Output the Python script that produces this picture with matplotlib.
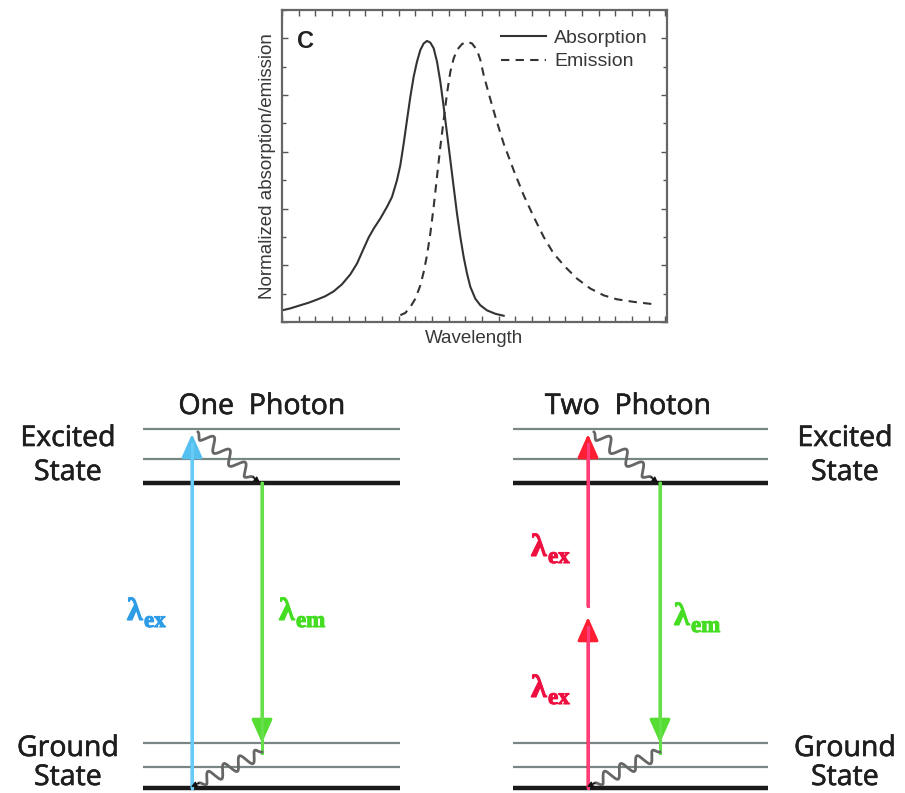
import numpy as np
import matplotlib.pyplot as plt
import matplotlib.patheffects as pe
from matplotlib.ticker import MultipleLocator

# absorption / emission spectra (arbitrary wavelength units, normalised)
abs_x = [0.0, 0.5, 1.1, 1.6, 2.1, 2.6, 3.1, 3.6, 4.1, 4.5, 4.9, 5.2, 5.5, 5.9,
         6.3, 6.6, 6.9, 7.1, 7.3, 7.5, 7.7, 7.9, 8.1, 8.3, 8.5, 8.7, 8.9, 9.1,
         9.3, 9.5, 9.7, 9.9, 10.1, 10.3, 10.5, 10.7, 10.9, 11.1, 11.3, 11.6,
         11.9, 12.3, 12.8, 13.3]
abs_y = [0.041, 0.048, 0.059, 0.068, 0.079, 0.091, 0.108, 0.133, 0.168, 0.206,
         0.259, 0.298, 0.329, 0.365, 0.406, 0.441, 0.500, 0.553, 0.629, 0.712,
         0.794, 0.865, 0.918, 0.959, 0.982, 0.991, 0.985, 0.965, 0.918, 0.847,
         0.759, 0.665, 0.571, 0.476, 0.382, 0.300, 0.229, 0.171, 0.124, 0.082,
         0.059, 0.041, 0.029, 0.022]
em_x = [7.1, 7.4, 7.7, 8.0, 8.3, 8.5, 8.7, 8.9, 9.1, 9.3, 9.5, 9.7, 9.9, 10.1,
        10.3, 10.5, 10.8, 11.1, 11.4, 11.7, 11.9, 12.1, 12.4, 12.8, 13.3, 13.9,
        14.5, 15.1, 15.7, 16.3, 17.0, 17.7, 18.5, 19.3, 20.1, 21.1, 22.4]
em_y = [0.024, 0.032, 0.053, 0.082, 0.129, 0.176, 0.235, 0.312, 0.406, 0.512,
        0.618, 0.712, 0.806, 0.882, 0.929, 0.959, 0.980, 0.988, 0.982, 0.959,
        0.924, 0.871, 0.806, 0.724, 0.629, 0.535, 0.447, 0.371, 0.300, 0.241,
        0.194, 0.153, 0.118, 0.094, 0.080, 0.071, 0.062]

# Jablonski diagram layout (pixel space of the figure)
excited_levels = [429, 459, 483]
ground_levels = [743, 767, 788]
one_photon_span = (143, 400)
two_photon_span = (513, 768)

W, H = 905, 793
fig = plt.figure(figsize=(W / 100, H / 100), dpi=100)

# ---------- diagram layer ----------
dg = fig.add_axes([0, 0, 1, 1])
dg.set_xlim(0, W)
dg.set_ylim(H, 0)
dg.axis('off')

sans = ['Open Sans', 'DejaVu Sans']
serif = ['Liberation Serif', 'DejaVu Serif']
txt_col = '#1e1e1e'
thick_txt = [pe.withStroke(linewidth=0.45, foreground=txt_col)]


def levels(span):
    x0, x1 = span
    for ys in (excited_levels, ground_levels):
        for i, y in enumerate(ys):
            thick = i == len(ys) - 1
            dg.plot([x0, x1], [y, y], color='#1a1a1a' if thick else '#7a8585',
                    lw=3.2 if thick else 1.6, solid_capstyle='butt', zorder=1)


def wavy(p0, p1, n, amp):
    p0 = np.array(p0, float)
    p1 = np.array(p1, float)
    d = p1 - p0
    L = np.hypot(*d)
    nrm = np.array([-d[1], d[0]]) / L
    t = np.linspace(0, 1, 300)
    env = np.clip(np.minimum(t, 1 - t) * 10, 0, 1)
    pts = p0[None, :] + t[:, None] * d[None, :] + \
        (amp * env * np.sin(2 * np.pi * n * t))[:, None] * nrm[None, :]
    dg.plot(pts[:, 0], pts[:, 1], color='#666666', lw=2.0, zorder=3)
    dg.annotate('', xy=p1 + d / L * 9, xytext=p1,
                arrowprops=dict(arrowstyle='-|>', color='#111111', lw=1.0,
                                mutation_scale=8, shrinkA=0, shrinkB=0),
                zorder=4)


def arrow(x, y_from, y_to, color, head_color=None, lw=2.2):
    dg.annotate('', xy=(x, y_to), xytext=(x, y_from),
                arrowprops=dict(arrowstyle='-|>,head_length=0.9,head_width=0.4',
                                color=color, lw=lw, mutation_scale=16,
                                shrinkA=0, shrinkB=0,
                                fc=head_color or color, ec=head_color or color),
                zorder=2)
    dg.plot([x, x], [y_from, y_to + 10], color=color, lw=lw, zorder=2)


def lam(x, y, sub, color):
    eff = [pe.withStroke(linewidth=0.8, foreground=color)]
    dg.text(x, y, 'λ', family=serif, fontweight='bold', fontsize=23,
            color=color, ha='left', va='baseline', path_effects=eff)
    dg.text(x + 17, y + 7, sub, family=serif, fontweight='bold', fontsize=16.5,
            color=color, ha='left', va='baseline', path_effects=eff)


def label(x, y, s):
    dg.text(x, y, s, family=sans, fontsize=20.5, color=txt_col,
            ha='center', va='baseline', path_effects=thick_txt)


levels(one_photon_span)
levels(two_photon_span)

# one photon
arrow(192, ground_levels[-1], excited_levels[0] + 5, '#66ccf6', '#55bff0')
arrow(262, excited_levels[-1], ground_levels[0], '#66e04a', '#55dd33')
wavy((198, 432), (253, 477), 3.5, 6.5)
wavy((262, 752), (199, 783), 4, 6.5)
lam(127, 620, 'ex', '#2f9ce6')
lam(279, 620, 'em', '#44dd22')

# two photon
arrow(588, ground_levels[-1], 617, '#ff3d7a', '#ff1f33')
arrow(588, 606, excited_levels[0] + 5, '#ff3d7a', '#ff1f33')
arrow(660, excited_levels[-1], ground_levels[0], '#66e04a', '#55dd33')
wavy((594, 432), (651, 477), 3.5, 6.5)
wavy((660, 752), (595, 783), 4, 6.5)
lam(531, 556, 'ex', '#ee1040')
lam(531, 697, 'ex', '#ee1040')
lam(674, 625, 'em', '#44dd22')

label(262, 414, 'One  Photon')
label(628, 414, 'Two  Photon')
for cx in (68, 845):
    label(cx, 446, 'Excited')
    label(cx, 480, 'State')
    label(cx, 756, 'Ground')
    label(cx, 785, 'State')

# ---------- spectra panel ----------
ax = fig.add_axes([282 / W, 1 - 322 / H, (667 - 282) / W, (322 - 10) / H])
gray = '#333333'
ax.plot(abs_x, abs_y, color=gray, lw=1.5, label='Absorption')
ax.plot(em_x, em_y, color=gray, lw=1.5, dashes=(4, 3), label='Emission')
ax.set_xlim(0, 23.1)
ax.set_ylim(0, 1.10)
ax.xaxis.set_major_locator(MultipleLocator(1))
ax.yaxis.set_major_locator(MultipleLocator(0.2))
ax.yaxis.set_minor_locator(MultipleLocator(0.1))
ax.tick_params(which='both', direction='in', top=True, right=True,
               labelbottom=False, labelleft=False, color='#555555')
ax.tick_params(which='major', length=4, width=1)
ax.tick_params(which='minor', length=3, width=1)
for s in ax.spines.values():
    s.set_color('#666666')
    s.set_linewidth(1.6)
lab = ['Liberation Sans', 'DejaVu Sans']
ax.set_xlabel('Wavelength', family=lab, fontsize=13.5, color='#383838', labelpad=6)
ax.set_ylabel('Normalized absorption/emission', family=lab, fontsize=13.5,
              color='#383838', labelpad=4)
ax.text(0.04, 0.935, 'C', transform=ax.transAxes, family=lab, fontsize=17,
        fontweight='bold', color='#222222', ha='left', va='top')
leg = ax.legend(loc='upper right', frameon=False, prop={'family': lab, 'size': 14},
                handlelength=2.3, handletextpad=0.4, labelspacing=0.3,
                borderaxespad=0.6, labelcolor='#383838')

fig.savefig('out.png', dpi=100)
